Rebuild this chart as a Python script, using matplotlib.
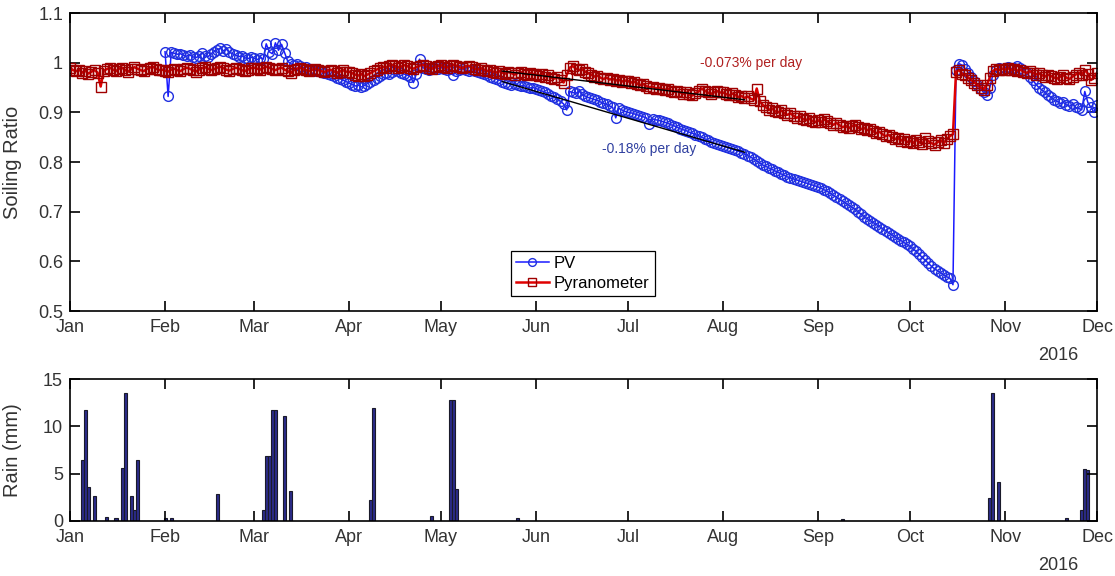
import numpy as np
import pandas as pd
import matplotlib
matplotlib.use('Agg')
import matplotlib.pyplot as plt
import matplotlib.dates as mdates
from matplotlib.ticker import FuncFormatter

plt.rcParams['font.family'] = ['Liberation Sans', 'DejaVu Sans']

# daily soiling ratio, pyranometer (1 Jan - 1 Dec 2016)
pyr_jan = [0.99, 0.985, 0.983, 0.986, 0.98, 0.984, 0.978, 0.982, 0.985, 0.98,
           0.952, 0.984, 0.987, 0.99, 0.986, 0.983, 0.988, 0.99, 0.985, 0.982,
           0.987, 0.991, 0.988, 0.985, 0.983, 0.987, 0.99, 0.992, 0.988, 0.985, 0.986]
pyr_feb = [0.984, 0.982, 0.986, 0.988, 0.985, 0.983, 0.987, 0.99, 0.988, 0.985,
           0.982, 0.986, 0.989, 0.991, 0.988, 0.985, 0.987, 0.99, 0.992, 0.989,
           0.986, 0.984, 0.987, 0.99, 0.988, 0.985, 0.983, 0.986, 0.989]
pyr_mar = [0.99, 0.988, 0.986, 0.989, 0.992, 0.99, 0.987, 0.985, 0.988, 0.99,
           0.986, 0.983, 0.979, 0.985, 0.988, 0.99, 0.987, 0.985, 0.983, 0.986,
           0.988, 0.985, 0.983, 0.981, 0.984, 0.986, 0.983, 0.98, 0.982, 0.985, 0.982]
pyr_apr = [0.982, 0.979, 0.976, 0.974, 0.977, 0.973, 0.976, 0.979, 0.983, 0.986,
           0.989, 0.992, 0.99, 0.994, 0.996, 0.993, 0.99, 0.992, 0.995, 0.993,
           0.99, 0.988, 0.991, 0.994, 0.996, 0.993, 0.99, 0.988, 0.991, 0.993]
pyr_may = [0.995, 0.992, 0.99, 0.993, 0.996, 0.994, 0.991, 0.989, 0.992, 0.994,
           0.991, 0.988, 0.986, 0.989, 0.986, 0.983, 0.985, 0.982, 0.98, 0.983,
           0.98, 0.978, 0.981, 0.979, 0.976, 0.979, 0.981, 0.978, 0.976, 0.979, 0.977]
pyr_jun = [0.976, 0.974, 0.977, 0.972, 0.975, 0.97, 0.968, 0.971, 0.966, 0.96,
           0.975, 0.99, 0.993, 0.988, 0.985, 0.987, 0.982, 0.979, 0.976, 0.972,
           0.974, 0.97, 0.967, 0.97, 0.966, 0.968, 0.964, 0.966, 0.962, 0.964]
pyr_jul = [0.963, 0.96, 0.962, 0.958, 0.955, 0.957, 0.953, 0.95, 0.952, 0.948,
           0.95, 0.947, 0.945, 0.948, 0.944, 0.941, 0.944, 0.94, 0.937, 0.94,
           0.936, 0.934, 0.938, 0.942, 0.948, 0.944, 0.94, 0.937, 0.94, 0.943, 0.94]
pyr_aug = [0.94, 0.937, 0.934, 0.938, 0.935, 0.931, 0.933, 0.929, 0.932, 0.928,
           0.925, 0.948, 0.922, 0.915, 0.91, 0.905, 0.908, 0.902, 0.9, 0.904,
           0.898, 0.895, 0.898, 0.893, 0.889, 0.892, 0.887, 0.884, 0.888, 0.883, 0.88]
pyr_sep = [0.884, 0.88, 0.886, 0.882, 0.878, 0.875, 0.879, 0.874, 0.87, 0.873,
           0.868, 0.872, 0.875, 0.87, 0.866, 0.869, 0.864, 0.867, 0.862, 0.858,
           0.861, 0.856, 0.852, 0.855, 0.85, 0.846, 0.849, 0.843, 0.847, 0.84]
pyr_oct = [0.843, 0.838, 0.845, 0.84, 0.836, 0.848, 0.842, 0.838, 0.835, 0.84,
           0.844, 0.838, 0.846, 0.852, 0.856, 0.982, 0.985, 0.978, 0.975, 0.97,
           0.965, 0.96, 0.955, 0.95, 0.946, 0.955, 0.97, 0.983, 0.987, 0.985, 0.988]
pyr_nov = [0.986, 0.989, 0.985, 0.988, 0.984, 0.986, 0.982, 0.979, 0.983, 0.98,
           0.976, 0.979, 0.975, 0.972, 0.976, 0.973, 0.97, 0.968, 0.972, 0.975,
           0.97, 0.967, 0.972, 0.976, 0.98, 0.975, 0.985, 0.978, 0.965, 0.97]
pyr_dec = [0.98]

# daily soiling ratio, PV module (1 Feb - 1 Dec 2016)
pv_feb = [1.022, 0.932, 1.021, 1.019, 1.017, 1.018, 1.015, 1.013, 1.016, 1.012,
          1.01, 1.013, 1.02, 1.014, 1.012, 1.018, 1.022, 1.026, 1.029, 1.024,
          1.027, 1.021, 1.018, 1.015, 1.012, 1.014, 1.01, 1.008, 1.011]
pv_mar = [1.009, 1.006, 1.01, 1.007, 1.038, 1.022, 1.018, 1.04, 1.025, 1.037,
          1.02, 1.003, 0.998, 0.995, 0.997, 0.993, 0.99, 0.992, 0.988, 0.986,
          0.984, 0.986, 0.982, 0.98, 0.977, 0.975, 0.973, 0.97, 0.968, 0.965, 0.962]
pv_apr = [0.959, 0.956, 0.953, 0.955, 0.951, 0.954, 0.958, 0.962, 0.966, 0.97,
          0.973, 0.977, 0.98, 0.978, 0.982, 0.985, 0.983, 0.98, 0.977, 0.975,
          0.972, 0.96, 0.978, 1.007, 0.99, 0.988, 0.985, 0.987, 0.99, 0.988]
pv_may = [0.99, 0.988, 0.985, 0.987, 0.975, 0.984, 0.986, 0.988, 0.985, 0.983,
          0.986, 0.984, 0.981, 0.979, 0.977, 0.975, 0.972, 0.97, 0.967, 0.965,
          0.962, 0.96, 0.958, 0.956, 0.958, 0.955, 0.953, 0.954, 0.951, 0.949, 0.95]
pv_jun = [0.948, 0.945, 0.943, 0.94, 0.937, 0.933, 0.93, 0.926, 0.922, 0.917,
          0.905, 0.942, 0.94, 0.938, 0.943, 0.936, 0.933, 0.93, 0.928, 0.926,
          0.924, 0.921, 0.918, 0.916, 0.913, 0.91, 0.889, 0.908, 0.905, 0.902]
pv_jul = [0.9, 0.899, 0.897, 0.895, 0.893, 0.891, 0.889, 0.876, 0.887, 0.885,
          0.884, 0.882, 0.88, 0.878, 0.875, 0.873, 0.87, 0.867, 0.865, 0.863,
          0.86, 0.858, 0.855, 0.853, 0.85, 0.847, 0.844, 0.841, 0.838, 0.836, 0.834]
pv_aug = [0.832, 0.83, 0.828, 0.826, 0.824, 0.822, 0.819, 0.816, 0.813, 0.81,
          0.806, 0.802, 0.798, 0.794, 0.791, 0.788, 0.785, 0.782, 0.779, 0.776,
          0.773, 0.77, 0.768, 0.766, 0.764, 0.762, 0.76, 0.758, 0.756, 0.754, 0.752]
pv_sep = [0.75, 0.747, 0.744, 0.741, 0.737, 0.733, 0.729, 0.725, 0.721, 0.717,
          0.713, 0.709, 0.705, 0.7, 0.695, 0.69, 0.686, 0.682, 0.678, 0.674,
          0.67, 0.666, 0.662, 0.658, 0.654, 0.65, 0.646, 0.642, 0.638, 0.634]
pv_oct = [0.63, 0.625, 0.62, 0.614, 0.608, 0.602, 0.596, 0.59, 0.585, 0.581,
          0.577, 0.573, 0.569, 0.566, 0.553, 0.985, 0.998, 0.995, 0.988, 0.98,
          0.972, 0.963, 0.955, 0.948, 0.94, 0.935, 0.95, 0.975, 0.985, 0.99, 0.988]
pv_nov = [0.99, 0.992, 0.988, 0.99, 0.993, 0.99, 0.986, 0.98, 0.972, 0.965,
          0.957, 0.95, 0.945, 0.94, 0.935, 0.93, 0.925, 0.922, 0.918, 0.92,
          0.915, 0.912, 0.917, 0.91, 0.908, 0.905, 0.942, 0.92, 0.91, 0.9]
pv_dec = [0.915]

# linear soiling rates over late May - early August
fit_start = '2016-05-21'
fit_end = '2016-08-08'
pv_fit0, pv_rate = 0.962, -0.0018
pyr_fit0, pyr_rate = 0.983, -0.00073

# daily rainfall (mm)
rain_dates = ['2016-01-05', '2016-01-06', '2016-01-07', '2016-01-09', '2016-01-13',
              '2016-01-16', '2016-01-18', '2016-01-19', '2016-01-21', '2016-01-22',
              '2016-01-23', '2016-02-01', '2016-02-03', '2016-02-18', '2016-03-04',
              '2016-03-05', '2016-03-06', '2016-03-07', '2016-03-08', '2016-03-11',
              '2016-03-13', '2016-04-08', '2016-04-09', '2016-04-28', '2016-05-04',
              '2016-05-05', '2016-05-06', '2016-05-26', '2016-09-09', '2016-10-27',
              '2016-10-28', '2016-10-30', '2016-11-21', '2016-11-26', '2016-11-27',
              '2016-11-28']
rain_mm = [6.4, 11.7, 3.6, 2.6, 0.4,
           0.35, 5.6, 13.5, 2.6, 1.2,
           6.4, 0.3, 0.3, 2.8, 1.2,
           6.9, 6.9, 11.7, 11.7, 11.1,
           3.2, 2.2, 11.9, 0.5, 12.8,
           12.8, 3.4, 0.3, 0.2, 2.4,
           13.5, 4.1, 0.3, 1.2, 5.5,
           5.4]

pyr = pyr_jan + pyr_feb + pyr_mar + pyr_apr + pyr_may + pyr_jun + pyr_jul \
    + pyr_aug + pyr_sep + pyr_oct + pyr_nov + pyr_dec
pv = pv_feb + pv_mar + pv_apr + pv_may + pv_jun + pv_jul + pv_aug \
    + pv_sep + pv_oct + pv_nov + pv_dec
pyr_days = pd.date_range('2016-01-01', periods=len(pyr))
pv_days = pd.date_range('2016-02-01', periods=len(pv))
fit_days = pd.date_range(fit_start, fit_end)
t = np.arange(len(fit_days))

txt = '#333333'
fig = plt.figure(figsize=(11.15, 5.76), dpi=100)
ax1 = fig.add_axes([0.0628, 0.46, 0.9211, 0.5174])
ax2 = fig.add_axes([0.0628, 0.0955, 0.9211, 0.2465])

ax1.plot(pv_days, pv, '-o', color='#1a1aff', mfc='none', mec='#2030e0',
         ms=7, mew=1.0, lw=1.1, label='PV')
ax1.plot(pyr_days, pyr, '-s', color='#e00000', mfc='none', mec='#a00000',
         ms=7, mew=1.0, lw=1.8, label='Pyranometer')
ax1.plot(fit_days, pv_fit0 + pv_rate * t, color='k', lw=1.0)
ax1.plot(fit_days, pyr_fit0 + pyr_rate * t, color='k', lw=1.0)

ax1.text(pd.Timestamp('2016-08-10'), 1.0, '%.3g%% per day' % (pyr_rate * 100),
         color='#b02020', fontsize=10, ha='center', va='center')
ax1.text(pd.Timestamp('2016-07-08'), 0.826, '%.2g%% per day' % (pv_rate * 100),
         color='#3040a0', fontsize=10, ha='center', va='center')

leg = ax1.legend(loc='upper left', bbox_to_anchor=(0.429, 0.201), fancybox=False,
                 edgecolor='k', fontsize=12, borderpad=0.3, labelspacing=0.3,
                 handlelength=2.0, handletextpad=0.3, borderaxespad=0, framealpha=1,
                 markerscale=0.8)
leg.get_frame().set_linewidth(0.9)

ax1.set_ylim(0.5, 1.1)
ax1.set_yticks(np.arange(0.5, 1.15, 0.1))
ax1.yaxis.set_major_formatter(FuncFormatter(lambda v, p: '%g' % round(v, 2)))
ax1.set_ylabel('Soiling Ratio', fontsize=14.5, color=txt)

ax2.bar(pd.to_datetime(rain_dates), rain_mm, width=1, color='#2b2b8a',
        edgecolor='#1a1a2a', linewidth=0.8)
ax2.set_ylim(0, 15)
ax2.set_yticks([0, 5, 10, 15])
ax2.set_ylabel('Rain (mm)', fontsize=14.5, color=txt)

for ax, yr in ((ax1, -0.148), (ax2, -0.31)):
    ax.set_xlim(pd.Timestamp('2016-01-01'), pd.Timestamp('2016-12-01'))
    ax.xaxis.set_major_locator(mdates.MonthLocator())
    ax.xaxis.set_major_formatter(mdates.DateFormatter('%b'))
    ax.tick_params(direction='in', length=7, width=1.2, top=True, right=True,
                   labelsize=13, labelcolor=txt)
    ax.tick_params(axis='x', pad=6)
    ax.tick_params(axis='y', pad=5)
    ax.yaxis.set_label_coords(-0.047, 0.5)
    for s in ax.spines.values():
        s.set_linewidth(1.2)
    ax.text(0.962, yr, '2016', transform=ax.transAxes, fontsize=13,
            color=txt, ha='center', va='center')

fig.savefig('out.png', dpi=100)
